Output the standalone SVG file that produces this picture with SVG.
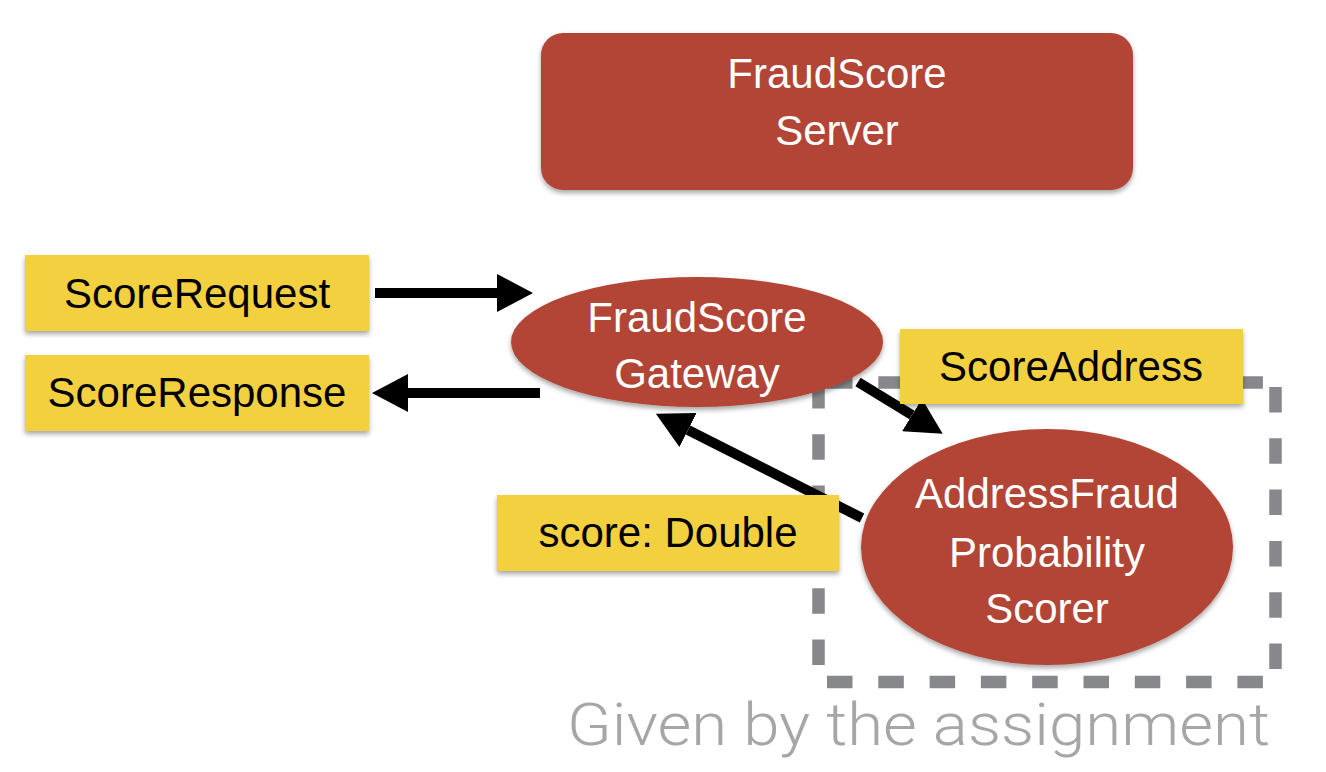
<svg xmlns="http://www.w3.org/2000/svg" width="1326" height="772" viewBox="0 0 1326 772">
  <defs>
    <filter id="shadow" x="-10%" y="-10%" width="120%" height="130%">
      <feDropShadow dx="0" dy="3" stdDeviation="2.5" flood-color="#000" flood-opacity="0.35"/>
    </filter>
    <marker id="arrow" viewBox="0 0 36 38" refX="0" refY="19" markerWidth="36" markerHeight="38" markerUnits="userSpaceOnUse" orient="auto">
      <path d="M0,0 L36,19 L0,38 Z" fill="#000"/>
    </marker>
    <style>
      .red { fill: #b24536; filter: url(#shadow); }
      .label { fill: #f3d03f; filter: url(#shadow); }
      .wt { font-family: "Liberation Sans", Arial, sans-serif; font-size: 42px; fill: #ffffff; text-anchor: middle; }
      .bt { font-family: "Liberation Sans", Arial, sans-serif; font-size: 42px; fill: #000000; text-anchor: middle; }
      .conn { stroke: #000; stroke-width: 10; fill: none; marker-end: url(#arrow); }
      .dash { stroke: #86888c; stroke-width: 12.5; fill: none; stroke-dasharray: 25.5 25.8; }
      .note { font-family: Roboto, "Liberation Sans", Arial, sans-serif; font-weight: 300; font-size: 60px; fill: #a6a6a6; }
    </style>
  </defs>
  <rect width="1326" height="772" fill="#ffffff"/>

  <g id="given-boundary">
    <line class="dash" x1="1275.5" y1="387" x2="1275.5" y2="669"/>
    <line class="dash" x1="827" y1="682" x2="1263" y2="682"/>
    <line class="dash" x1="818.5" y1="665" x2="818.5" y2="383"/>
    <line class="dash" x1="827" y1="382.5" x2="1263" y2="382.5"/>
  </g>

  <g id="connectors">
    <line class="conn" x1="375" y1="293" x2="497" y2="293"/>
    <line class="conn" x1="540" y1="393" x2="408" y2="393"/>
    <line class="conn" x1="862" y1="518" x2="688" y2="430"/>
    <line class="conn" x1="858" y1="382" x2="912" y2="415"/>
  </g>

  <g id="server">
    <rect class="red" x="541" y="33" width="592" height="157" rx="22" ry="22"/>
    <text class="wt" x="837" y="88">FraudScore</text>
    <text class="wt" x="837" y="145">Server</text>
  </g>

  <g id="gateway">
    <ellipse class="red" cx="697" cy="342" rx="186" ry="65"/>
    <text class="wt" x="697" y="332">FraudScore</text>
    <text class="wt" x="697" y="388">Gateway</text>
  </g>

  <g id="scorer">
    <ellipse class="red" cx="1047" cy="547" rx="186" ry="118"/>
    <text class="wt" x="1047" y="508">AddressFraud</text>
    <text class="wt" x="1047" y="567">Probability</text>
    <text class="wt" x="1047" y="623">Scorer</text>
  </g>

  <g id="score-request">
    <rect class="label" x="25" y="255" width="344" height="76"/>
    <text class="bt" x="197" y="308">ScoreRequest</text>
  </g>

  <g id="score-response">
    <rect class="label" x="25" y="355" width="344" height="76"/>
    <text class="bt" x="197" y="407">ScoreResponse</text>
  </g>

  <g id="score-address">
    <rect class="label" x="900" y="329" width="343" height="75"/>
    <text class="bt" x="1071" y="381">ScoreAddress</text>
  </g>

  <g id="score-double">
    <rect class="label" x="497" y="495" width="342" height="76"/>
    <text class="bt" x="668" y="547">score: Double</text>
  </g>

  <g id="given-label">
    <text class="note" x="567" y="745" textLength="703" lengthAdjust="spacingAndGlyphs">Given by the assignment</text>
  </g>
</svg>
